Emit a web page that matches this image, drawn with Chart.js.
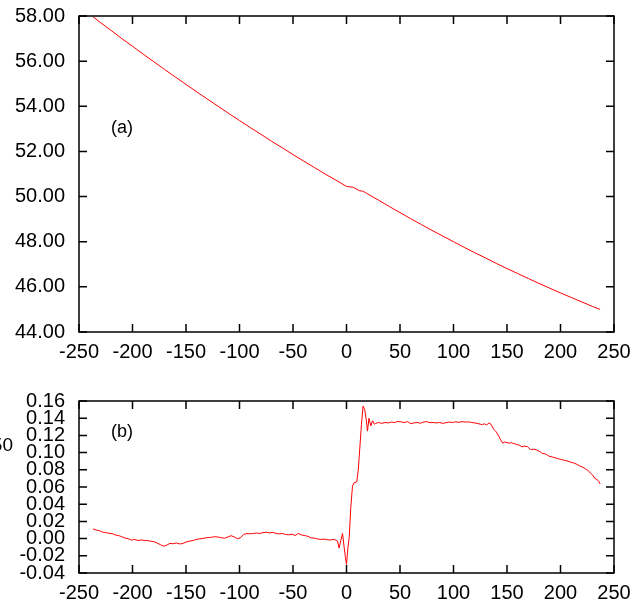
<!DOCTYPE html>
<html>
<head>
<meta charset="utf-8">
<script src="https://cdn.jsdelivr.net/npm/chart.js@4.4.1/dist/chart.umd.min.js"></script>
<style>
  body { margin: 0; background: #fff; }
  canvas { position: absolute; left: 0; }
  #topChart { top: 0; }
  #botChart { top: 370px; }
</style>
</head>
<body>
<canvas id="topChart" width="642" height="370"></canvas>
<canvas id="botChart" width="642" height="233"></canvas>
<script>
'use strict';

// x ticks shared by both panels
let xTicks = [-250, -200, -150, -100, -50, 0, 50, 100, 150, 200, 250];
let topTicks = [44, 46, 48, 50, 52, 54, 56, 58];
let botTicks = [-0.04, -0.02, 0, 0.02, 0.04, 0.06, 0.08, 0.10, 0.12, 0.14, 0.16];

// panel (a)
let topX = [-237, -230, -220, -210, -200, -190, -180, -170, -160, -150, -140, -130, -120, -110,
  -100, -90, -80, -70, -60, -50, -40, -30, -20, -10, -5, 0, 3, 6, 9, 12, 15, 18, 20, 30, 40, 50,
  60, 70, 80, 90, 100, 110, 120, 130, 140, 150, 160, 170, 180, 190, 200, 210, 220, 230, 237];
let topY = [57.97, 57.71, 57.36, 57.00, 56.66, 56.31, 55.97, 55.63, 55.30, 54.97, 54.64, 54.32, 54.00, 53.68,
  53.37, 53.06, 52.76, 52.45, 52.16, 51.86, 51.57, 51.29, 51.00, 50.73, 50.59, 50.45, 50.43, 50.42, 50.34, 50.26, 50.24, 50.17, 50.11, 49.84, 49.56, 49.29,
  49.02, 48.76, 48.50, 48.25, 48.00, 47.75, 47.51, 47.28, 47.04, 46.81, 46.59, 46.37, 46.15, 45.94, 45.73, 45.53, 45.33, 45.13, 45.00];

// panel (b)
let botX = [-237, -234, -231, -228, -225, -222, -219, -216, -213, -210, -207, -204, -201, -198, -195, -192, -189, -186, -183, -180,
  -177, -174, -171, -168, -165, -162, -159, -156, -153, -150, -147, -144, -141, -138, -135, -132, -129, -126, -123, -120,
  -117, -114, -111, -108, -105, -102, -99, -96, -93, -90, -87, -84, -81, -78, -75, -72, -69, -66, -63, -60,
  -57, -54, -51, -48, -45, -42, -39, -36, -33, -30, -27, -24, -21, -18, -15, -12, -10, -8.4, -6.9, -5.3,
  -3.7, -2.2, -1, 0, 1.2, 2.5, 4, 5.6, 7.1, 9.6, 11, 11.8, 14, 15.5, 17, 18.5, 19.6, 21, 22.7, 24.3,
  26, 27.3, 30, 33, 36, 39, 42, 45, 48, 51, 54, 57, 60, 63, 66, 69, 72, 75, 78, 81,
  84, 87, 90, 93, 96, 99, 102, 105, 108, 111, 114, 117, 120, 122, 125, 127, 129, 131, 133, 135,
  137.7, 140, 142.4, 144, 146, 148, 150, 152, 154, 156, 158, 160, 162, 164, 166, 169, 172, 175, 178, 181,
  183, 186, 189, 192, 195, 198, 201, 204, 207, 209, 212, 215, 218, 221, 224, 226, 228, 230, 232, 234, 236, 237];
let botY = [0.0113, 0.0100, 0.0092, 0.0075, 0.0070, 0.0062, 0.0058, 0.0042, 0.0035, 0.0022, 0.0006, -0.0002, -0.0018, -0.0010, -0.0022, -0.0016, -0.0020, -0.0024, -0.0030, -0.0036,
  -0.0052, -0.0070, -0.0088, -0.0076, -0.0056, -0.0060, -0.0050, -0.0062, -0.0058, -0.0040, -0.0030, -0.0024, -0.0012, -0.0004, 0.0000, 0.0008, 0.0012, 0.0016, 0.0022, 0.0018,
  0.0010, 0.0004, 0.0018, 0.0034, 0.0020, -0.0002, 0.0010, 0.0050, 0.0058, 0.0056, 0.0060, 0.0064, 0.0060, 0.0070, 0.0074, 0.0066, 0.0072, 0.0062, 0.0054, 0.0060,
  0.0048, 0.0044, 0.0052, 0.0036, 0.0060, 0.0042, 0.0036, 0.0026, 0.0008, 0.0006, -0.0004, -0.0010, -0.0006, -0.0014, -0.0016, -0.0008, -0.0018, -0.0030, -0.0110, -0.0020,
  0.0060, -0.0100, -0.0220, -0.0300, -0.0120, 0.0010, 0.0360, 0.0610, 0.0650, 0.0660, 0.0800, 0.0940, 0.1330, 0.1540, 0.1500, 0.1380, 0.1250, 0.1400, 0.1310, 0.1370,
  0.1330, 0.1340, 0.1350, 0.1340, 0.1350, 0.1345, 0.1355, 0.1350, 0.1362, 0.1357, 0.1350, 0.1360, 0.1337, 0.1345, 0.1350, 0.1342, 0.1355, 0.1360, 0.1348, 0.1350,
  0.1345, 0.1350, 0.1340, 0.1348, 0.1355, 0.1350, 0.1358, 0.1352, 0.1360, 0.1355, 0.1357, 0.1350, 0.1345, 0.1340, 0.1330, 0.1326, 0.1335, 0.1320, 0.1345, 0.1330,
  0.1270, 0.1240, 0.1190, 0.1150, 0.1110, 0.1125, 0.1115, 0.1110, 0.1115, 0.1105, 0.1100, 0.1090, 0.1085, 0.1066, 0.1075, 0.1070, 0.1035, 0.1040, 0.1030, 0.1010,
  0.0990, 0.0985, 0.0960, 0.0950, 0.0940, 0.0928, 0.0918, 0.0910, 0.0900, 0.0890, 0.0880, 0.0866, 0.0845, 0.0830, 0.0805, 0.0790, 0.0760, 0.0740, 0.0700, 0.0690, 0.0660, 0.0636];

const FONT = 'Liberation Sans, Arial, sans-serif';

// gnuplot style frame with inward ticks on all four sides
const framePlugin = {
  id: 'frame',
  afterDraw(chart, args, opts) {
    const ctx = chart.ctx;
    const a = chart.chartArea;
    const x = chart.scales.x;
    const y = chart.scales.y;
    ctx.save();
    ctx.strokeStyle = '#000';
    ctx.lineWidth = 1.5;
    ctx.strokeRect(a.left, a.top, a.right - a.left, a.bottom - a.top);
    ctx.beginPath();
    x.ticks.forEach(t => {
      let px = x.getPixelForValue(t.value);
      ctx.moveTo(px, a.bottom); ctx.lineTo(px, a.bottom - 8);
      ctx.moveTo(px, a.top); ctx.lineTo(px, a.top + 8);
    });
    y.ticks.forEach(t => {
      let py = y.getPixelForValue(t.value);
      ctx.moveTo(a.left, py); ctx.lineTo(a.left + 8, py);
      ctx.moveTo(a.right, py); ctx.lineTo(a.right - 8, py);
    });
    ctx.stroke();
    // panel label
    ctx.fillStyle = '#000';
    ctx.font = '18px ' + FONT;
    ctx.textBaseline = 'middle';
    ctx.textAlign = 'left';
    ctx.fillText(opts.label, x.getPixelForValue(opts.lx), y.getPixelForValue(opts.ly));
    if (opts.side) {
      ctx.font = '19px ' + FONT;
      ctx.textAlign = 'right';
      ctx.fillText(opts.side, 13, 76);
    }
    ctx.restore();
  }
};

function makeChart(id, xs, ys, yTicks, yMin, yMax, pad, xHeight, label, ly, side) {
  let pts = [];
  for (let i = 0; i < xs.length; i++) {
    pts.push({ x: xs[i], y: ys[i] });
  }
  return new Chart(document.getElementById(id), {
    type: 'line',
    data: {
      datasets: [{
        data: pts,
        borderColor: '#ff0000',
        borderWidth: 1,
        pointRadius: 0,
        tension: 0,
        fill: false
      }]
    },
    options: {
      responsive: false,
      animation: false,
      devicePixelRatio: 1,
      layout: { padding: { top: pad, right: 28, left: 0, bottom: 0 } },
      plugins: {
        legend: { display: false },
        tooltip: { enabled: false },
        frame: { label: label, lx: -220, ly: ly, side: side }
      },
      scales: {
        x: {
          type: 'linear',
          min: xTicks[0],
          max: xTicks[xTicks.length - 1],
          afterBuildTicks: s => { s.ticks = xTicks.map(v => ({ value: v })); },
          afterFit: s => { s.height = xHeight; s.paddingLeft = 0; s.paddingRight = 0; },
          grid: { display: false, drawTicks: false },
          border: { display: false },
          ticks: {
            autoSkip: false, maxRotation: 0, padding: 8,
            color: '#000', font: { family: FONT, size: 20 },
            callback: v => String(v)
          }
        },
        y: {
          type: 'linear',
          min: yMin,
          max: yMax,
          afterBuildTicks: s => { s.ticks = yTicks.map(v => ({ value: v })); },
          afterFit: s => { s.width = 79; s.paddingTop = 0; s.paddingBottom = 0; },
          grid: { display: false, drawTicks: false },
          border: { display: false },
          ticks: {
            autoSkip: false, padding: 14,
            color: '#000', font: { family: FONT, size: 20 },
            callback: v => Number(v).toFixed(2)
          }
        }
      }
    },
    plugins: [framePlugin]
  });
}

makeChart('topChart', topX, topY, topTicks, 44, 58, 16, 38, '(a)', 53.04, null);
makeChart('botChart', botX, botY, botTicks, -0.04, 0.16, 31, 30, '(b)', 0.124, '50');
</script>
</body>
</html>
